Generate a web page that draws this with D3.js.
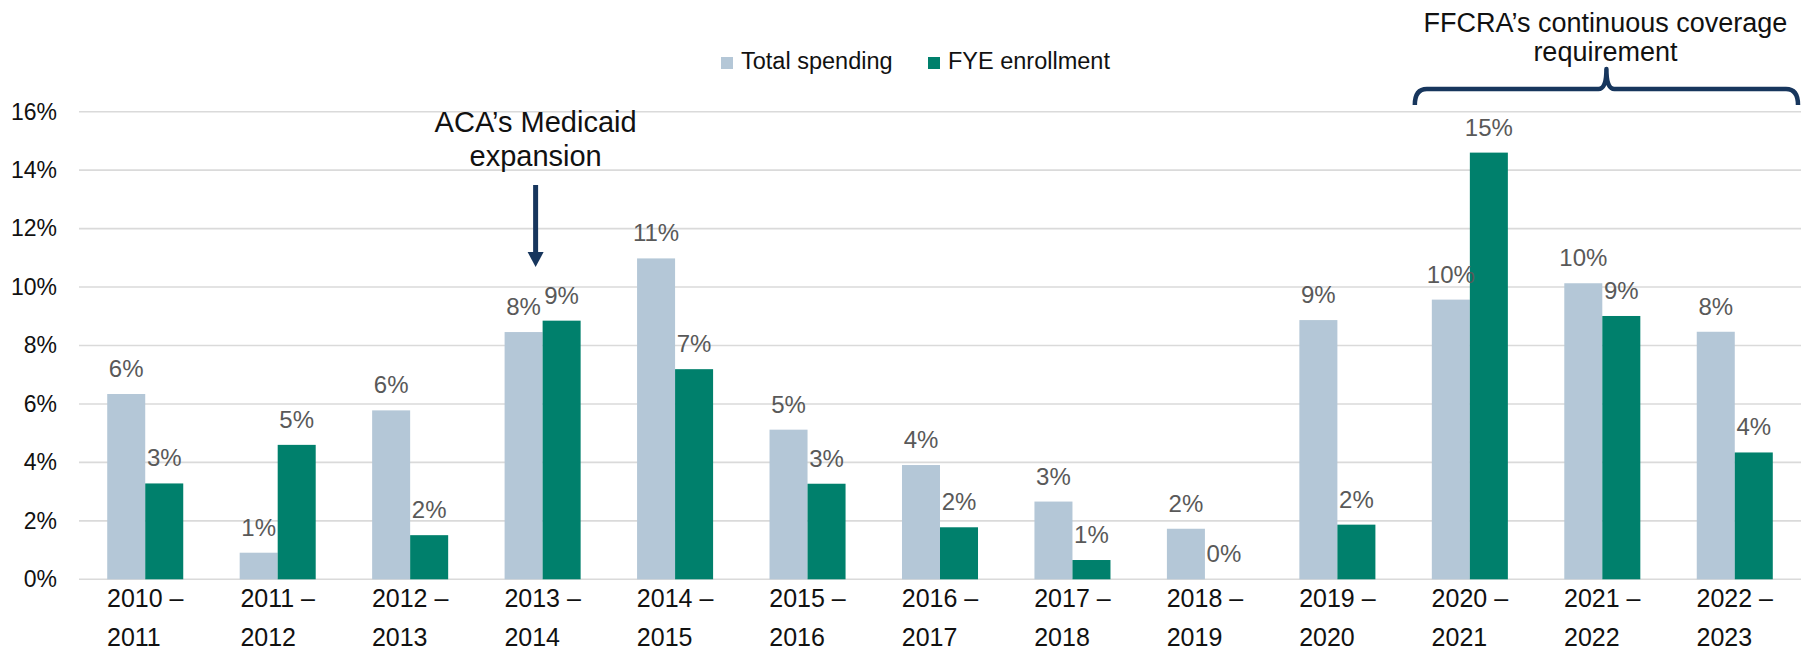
<!DOCTYPE html>
<html>
<head>
<meta charset="utf-8">
<script src="https://cdn.jsdelivr.net/npm/d3@7"></script>
<style>
  html, body { margin: 0; padding: 0; background: #ffffff; }
  svg { display: block; font-family: "Liberation Sans", Arial, sans-serif; }
</style>
</head>
<body>
<svg id="chart" width="1808" height="652"></svg>
<script>
// Fiscal-year periods (two-line category labels)
const periodStart = ["2010", "2011", "2012", "2013", "2014", "2015", "2016",
                     "2017", "2018", "2019", "2020", "2021", "2022"];
const periodEnd   = ["2011", "2012", "2013", "2014", "2015", "2016", "2017",
                     "2018", "2019", "2020", "2021", "2022", "2023"];

// Annual growth, percent
const totalSpending  = [6.34, 0.91, 5.78, 8.46, 10.98, 5.12, 3.91, 2.66, 1.73, 8.87, 9.57, 10.13, 8.47];
const fyeEnrollment  = [3.28, 4.60, 1.51, 8.85, 7.19, 3.27, 1.78, 0.66, 0.00, 1.87, 14.60, 9.01, 4.34];

const seriesNames  = ["Total spending", "FYE enrollment"];
const seriesColors = ["#b4c7d7", "#00806c"];

const yTicks = [0, 2, 4, 6, 8, 10, 12, 14, 16];

const categories = periodStart.map((s, i) => s + " – " + periodEnd[i]);
const rows = categories.map((c, i) => ({
  category: c,
  values: [totalSpending[i], fyeEnrollment[i]]
}));

const svg = d3.select("#chart");
const plot = { left: 79, right: 1801, top: 111.7, bottom: 579.3 };

const x = d3.scaleBand()
  .domain(categories)
  .range([plot.left, plot.right])
  .paddingInner(0.426)
  .paddingOuter(0.213);

const xInner = d3.scaleBand()
  .domain(seriesNames)
  .range([0, x.bandwidth()])
  .padding(0);

const y = d3.scaleLinear().domain([0, 16]).range([plot.bottom, plot.top]);

// Horizontal gridlines
svg.append("g")
  .selectAll("line")
  .data(yTicks)
  .join("line")
  .attr("x1", plot.left)
  .attr("x2", plot.right)
  .attr("y1", d => y(d))
  .attr("y2", d => y(d))
  .attr("stroke", "#dadada")
  .attr("stroke-width", 1.6);

// Y axis labels
const yAxis = d3.axisLeft(y)
  .tickValues(yTicks)
  .tickSize(0)
  .tickPadding(22)
  .tickFormat(d => d + "%");
const yG = svg.append("g")
  .attr("transform", `translate(${plot.left},0)`)
  .call(yAxis);
yG.select(".domain").remove();
yG.selectAll("text")
  .attr("font-size", 23)
  .attr("fill", "#111")
  .attr("font-family", "Liberation Sans, Arial, sans-serif");

// Bars
const groups = svg.append("g")
  .selectAll("g")
  .data(rows)
  .join("g")
  .attr("transform", d => `translate(${x(d.category)},0)`);

groups.selectAll("rect")
  .data(d => d.values.map((v, j) => ({ name: seriesNames[j], value: v, color: seriesColors[j] })))
  .join("rect")
  .attr("x", d => xInner(d.name))
  .attr("width", xInner.bandwidth())
  .attr("y", d => y(d.value))
  .attr("height", d => y(0) - y(d.value))
  .attr("fill", d => d.color);

// Value labels
groups.selectAll("text.value")
  .data(d => d.values.map((v, j) => ({ name: seriesNames[j], value: v })))
  .join("text")
  .attr("class", "value")
  .attr("x", d => xInner(d.name) + xInner.bandwidth() / 2)
  .attr("y", d => y(d.value) - 17)
  .attr("text-anchor", "middle")
  .attr("font-size", 24)
  .attr("fill", "#595959")
  .text(d => Math.round(d.value) + "%");

// Category labels: two lines, block centered under each group
const xl = svg.append("g")
  .selectAll("text")
  .data(categories.map((c, i) => ({ c, a: periodStart[i] + " –", b: periodEnd[i] })))
  .join("text")
  .attr("font-size", 25)
  .attr("fill", "#111");
xl.append("tspan").attr("class", "l1").attr("y", 607).text(d => d.a);
xl.append("tspan").attr("class", "l2").attr("y", 646).text(d => d.b);
xl.each(function(d) {
  const t = d3.select(this);
  const w = t.select(".l1").node().getComputedTextLength();
  const left = x(d.c) + x.bandwidth() / 2 - w / 2;
  t.selectAll("tspan").attr("x", left);
});

// Legend
const legend = svg.append("g").attr("transform", "translate(721,57)");
const li = legend.selectAll("g")
  .data(seriesNames)
  .join("g")
  .attr("transform", (d, i) => `translate(${i * 207},0)`);
li.append("rect")
  .attr("width", 12).attr("height", 12)
  .attr("fill", (d, i) => seriesColors[i]);
li.append("text")
  .attr("x", 20).attr("y", 11.5)
  .attr("font-size", 23.5)
  .attr("fill", "#111")
  .text(d => d);

// Annotation: ACA's Medicaid expansion with arrow
const navy = "#17365d";
const acaX = x(categories[3]) + x.bandwidth() / 2 - 7;
const aca = svg.append("text")
  .attr("text-anchor", "middle")
  .attr("font-size", 29)
  .attr("fill", "#111");
aca.append("tspan").attr("x", acaX).attr("y", 131.7).text("ACA’s Medicaid");
aca.append("tspan").attr("x", acaX).attr("y", 166).text("expansion");

svg.append("line")
  .attr("x1", acaX).attr("x2", acaX)
  .attr("y1", 185).attr("y2", 253)
  .attr("stroke", navy).attr("stroke-width", 5);
svg.append("path")
  .attr("d", `M${acaX - 8},252 L${acaX + 8},252 L${acaX},267 Z`)
  .attr("fill", navy);

// Annotation: FFCRA continuous coverage bracket
const bLeft = x(categories[10]) - 17;
const bRight = plot.right - 3;
const bMid = (bLeft + bRight) / 2;
const bY = 89;
svg.append("path")
  .attr("d",
    `M${bLeft},105 Q${bLeft},${bY} ${bLeft + 12},${bY} ` +
    `L${bMid - 8},${bY} Q${bMid},${bY} ${bMid},${bY - 20} ` +
    `Q${bMid},${bY} ${bMid + 8},${bY} ` +
    `L${bRight - 12},${bY} Q${bRight},${bY} ${bRight},105`)
  .attr("fill", "none")
  .attr("stroke", navy)
  .attr("stroke-width", 4.5)
  .attr("stroke-linejoin", "round");

const ff = svg.append("text")
  .attr("text-anchor", "middle")
  .attr("font-size", 27)
  .attr("fill", "#111");
ff.append("tspan").attr("x", bMid - 1).attr("y", 31.7).text("FFCRA’s continuous coverage");
ff.append("tspan").attr("x", bMid - 1).attr("y", 61).text("requirement");
</script>
</body>
</html>
